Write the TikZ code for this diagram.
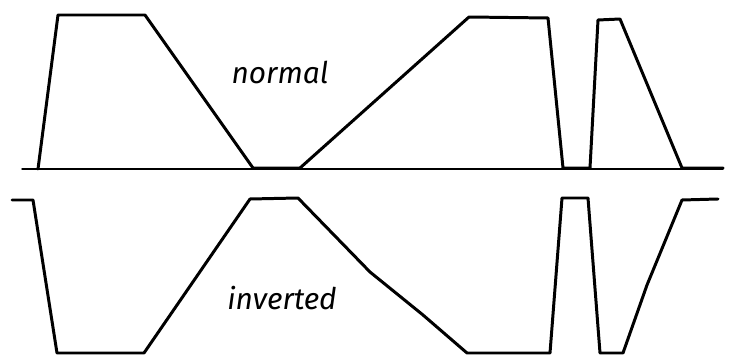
\documentclass[tikz,border=0pt]{standalone}
\usepackage{fontspec}
\newfontfamily\handfont{Fira Sans}
\begin{document}
\begin{tikzpicture}[x=0.02cm,y=0.02cm,line join=round,line cap=round,
	wave/.style={line width=1.7pt},
	label/.style={font=\handfont\itshape\fontsize{17}{20}\selectfont}]
			% --- Khung hình ---
			\useasboundingbox (0,0) rectangle (740,355);
			% --- Trục gốc ---
			\draw[line width=0.8pt] (22,186)--(723,186);
			% --- Xung thường ---
			\draw[wave] (38,186)--(58,340)--(145,340)--(253,187)--(300,187)--(469,338)--(548,337)--(563,187)--(590,187)--(598,335)--(620,336)--(682,187)--(723,187);
			\node[label] (normal) at (280,283) {normal};
			% --- Xung đảo ---
			\draw[wave] (12,155)--(33,155)--(57,2)--(144,2)--(250,156)--(298,157)--(370,83)--(423,40)--(467,2)--(550,2)--(562,157)--(588,157)--(600,2)--(623,2)--(647,70)--(682,155)--(718,156);
			\node[label] (inverted) at (282,57) {inverted};
		\end{tikzpicture}
\end{document}
